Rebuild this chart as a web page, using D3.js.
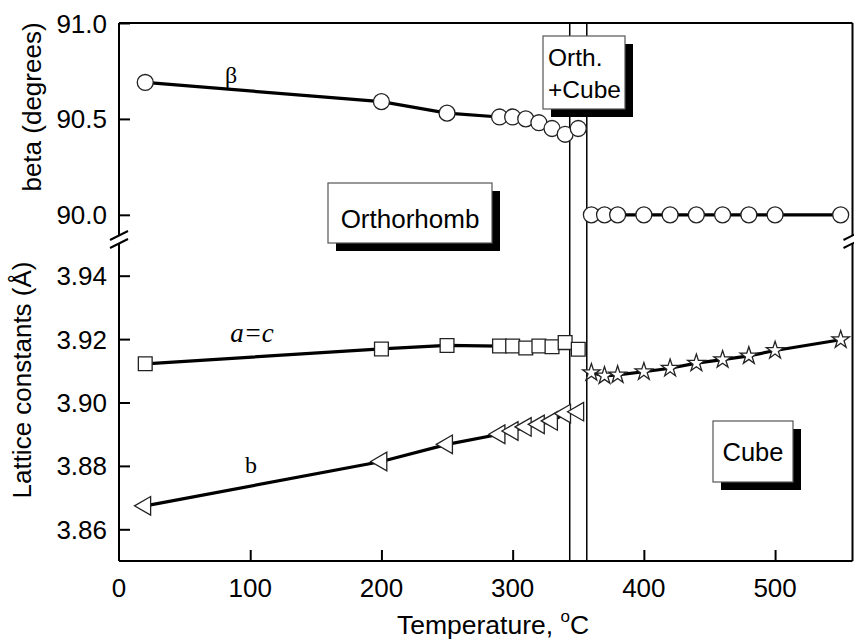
<!DOCTYPE html>
<html>
<head>
<meta charset="utf-8">
<script src="https://cdn.jsdelivr.net/npm/d3@7"></script>
<style>
  body { margin: 0; background: #fff; }
  svg { display: block; }
</style>
</head>
<body>
<svg id="chart" width="854" height="642"></svg>
<script>
// Datos
const tempOrto = [20, 200, 250, 290, 300, 310, 320, 330, 340, 350];
const betaOrto = [90.69, 90.59, 90.53, 90.51, 90.51, 90.50, 90.48, 90.45, 90.42, 90.45];
const acOrto = [3.9122, 3.9169, 3.918, 3.9178, 3.9178, 3.9172, 3.9178, 3.9176, 3.9189, 3.9168];
const bOrto = [3.8674, 3.8814, 3.8868, 3.8900, 3.8910, 3.8923, 3.8931, 3.8942, 3.8965, 3.8971];

const tempCubo = [360, 370, 380, 400, 420, 440, 460, 480, 500, 550];
const betaCubo = [90.0, 90.0, 90.0, 90.0, 90.0, 90.0, 90.0, 90.0, 90.0, 90.0];
const aCubo = [3.9094, 3.9084, 3.9087, 3.9097, 3.9108, 3.9124, 3.9135, 3.9147, 3.9164, 3.9198];

const ticksX = [100, 200, 300, 400, 500];
const labelsX = [0, 100, 200, 300, 400, 500];
const ticksBeta = [90.0, 90.5, 91.0];
const ticksRed = [3.86, 3.88, 3.90, 3.92, 3.94];
const limitesFase = [343.5, 356.5];

const svg = d3.select("#chart");
const sans = "'Liberation Sans', Arial, sans-serif";
const serif = "'Liberation Serif', 'Times New Roman', serif";

const m = {left: 119, right: 852.5, top: 23, bottom: 561};
const x = d3.scaleLinear().domain([0, 559]).range([m.left, m.right]);
const yBeta = d3.scaleLinear().domain([89.9, 91.0]).range([234, m.top]);
const yRed = d3.scaleLinear().domain([3.85, 3.95]).range([m.bottom, 244]);

// Marco
const marco = svg.append("g").attr("stroke", "#000").attr("stroke-width", 2).attr("fill", "none");
marco.append("line").attr("x1", m.left).attr("x2", m.right).attr("y1", m.top).attr("y2", m.top);
marco.append("line").attr("x1", m.left).attr("x2", m.right).attr("y1", m.bottom).attr("y2", m.bottom);
[m.left, m.right].forEach(xx => {
  marco.append("line").attr("x1", xx).attr("x2", xx).attr("y1", m.top).attr("y2", 236);
  marco.append("line").attr("x1", xx).attr("x2", xx).attr("y1", 243).attr("y2", m.bottom);
  // Marcas de corte del eje
  marco.append("line").attr("x1", xx - 9).attr("x2", xx + 9).attr("y1", 240).attr("y2", 231);
  marco.append("line").attr("x1", xx - 9).attr("x2", xx + 9).attr("y1", 248).attr("y2", 239);
});

// Lineas de limite de fase
svg.selectAll(".fase")
  .data(limitesFase)
  .enter()
  .append("line")
  .attr("x1", d => x(d)).attr("x2", d => x(d))
  .attr("y1", m.top).attr("y2", m.bottom)
  .attr("stroke", "#000").attr("stroke-width", 1.5);

// Ejes
svg.append("g")
  .attr("transform", `translate(0,${m.bottom})`)
  .call(d3.axisTop(x).tickValues(ticksX).tickSize(11).tickFormat(""))
  .call(g => g.select(".domain").remove())
  .call(g => g.selectAll("line").attr("stroke-width", 2));

svg.append("g")
  .attr("transform", `translate(${m.left},0)`)
  .call(d3.axisRight(yBeta).tickValues(ticksBeta).tickSize(11).tickFormat(""))
  .call(g => g.select(".domain").remove())
  .call(g => g.selectAll("line").attr("stroke-width", 2));

svg.append("g")
  .attr("transform", `translate(${m.left},0)`)
  .call(d3.axisRight(yRed).tickValues(ticksRed).tickSize(11).tickFormat(""))
  .call(g => g.select(".domain").remove())
  .call(g => g.selectAll("line").attr("stroke-width", 2));

// Etiquetas de los ejes
svg.selectAll(".lx")
  .data(labelsX)
  .enter()
  .append("text")
  .attr("x", d => x(d)).attr("y", 597)
  .attr("text-anchor", "middle")
  .attr("font-family", sans).attr("font-size", 26)
  .text(d => d);

svg.selectAll(".lb")
  .data(ticksBeta)
  .enter()
  .append("text")
  .attr("x", 107).attr("y", d => yBeta(d) + 9.5)
  .attr("text-anchor", "end")
  .attr("font-family", sans).attr("font-size", 26)
  .text(d => d3.format(".1f")(d));

svg.selectAll(".lr")
  .data(ticksRed)
  .enter()
  .append("text")
  .attr("x", 107).attr("y", d => yRed(d) + 9.5)
  .attr("text-anchor", "end")
  .attr("font-family", sans).attr("font-size", 26)
  .text(d => d3.format(".2f")(d));

const tituloX = svg.append("text")
  .attr("x", 493).attr("y", 634)
  .attr("text-anchor", "middle")
  .attr("font-family", sans).attr("font-size", 26.5);
tituloX.append("tspan").text("Temperature, ");
tituloX.append("tspan").attr("font-size", 17).attr("dy", -12).text("o");
tituloX.append("tspan").attr("dy", 12).text("C");

svg.append("text")
  .attr("transform", "translate(41,107) rotate(-90)")
  .attr("text-anchor", "middle")
  .attr("font-family", sans).attr("font-size", 26)
  .text("beta (degrees)");

svg.append("text")
  .attr("transform", "translate(31,380) rotate(-90)")
  .attr("text-anchor", "middle")
  .attr("font-family", sans).attr("font-size", 26)
  .text("Lattice constants (Å)");

// Series
function serie(temps, vals, y, tipo, size, rot) {
  const datos = temps.map((t, i) => ({t: t, v: vals[i]}));
  svg.append("path")
    .datum(datos)
    .attr("fill", "none")
    .attr("stroke", "#000")
    .attr("stroke-width", 3.2)
    .attr("d", d3.line().x(d => x(d.t)).y(d => y(d.v)));
  svg.append("g").selectAll("path")
    .data(datos)
    .enter()
    .append("path")
    .attr("d", d3.symbol().type(tipo).size(size))
    .attr("transform", d => `translate(${x(d.t)},${y(d.v)}) rotate(${rot})`)
    .attr("fill", "#fff")
    .attr("stroke", "#222")
    .attr("stroke-width", 1.3);
}

serie(tempOrto, betaOrto, yBeta, d3.symbolCircle, 200, 0);
serie(tempCubo, betaCubo, yBeta, d3.symbolCircle, 200, 0);
serie(tempOrto, acOrto, yRed, d3.symbolSquare, 190, 0);
serie(tempOrto, bOrto, yRed, d3.symbolTriangle, 150, -90);
serie(tempCubo, aCubo, yRed, d3.symbolStar, 95, 0);

// Nombres de las series
svg.append("text").attr("x", 231).attr("y", 83)
  .attr("text-anchor", "middle").attr("font-family", serif).attr("font-size", 24)
  .text("β");
svg.append("text").attr("x", 252).attr("y", 342)
  .attr("text-anchor", "middle").attr("font-family", serif).attr("font-size", 27)
  .attr("font-style", "italic")
  .text("a=c");
svg.append("text").attr("x", 251).attr("y", 473)
  .attr("text-anchor", "middle").attr("font-family", serif).attr("font-size", 24)
  .text("b");

// Cajas con sombra
function caja(x0, y0, w, h, lineas, anchor, tx, ty, dy, fs) {
  svg.append("rect").attr("x", x0 + 8).attr("y", y0 + 8).attr("width", w).attr("height", h).attr("fill", "#000");
  svg.append("rect").attr("x", x0).attr("y", y0).attr("width", w).attr("height", h)
    .attr("fill", "#fff").attr("stroke", "#555").attr("stroke-width", 1.2);
  lineas.forEach((l, i) => {
    svg.append("text")
      .attr("x", tx).attr("y", ty + i * dy)
      .attr("text-anchor", anchor)
      .attr("font-family", sans).attr("font-size", fs)
      .text(l);
  });
}

caja(328, 183, 164, 60, ["Orthorhomb"], "middle", 410, 228, 0, 26);
caja(543, 36, 82, 73, ["Orth.", "+Cube"], "start", 548, 66, 32, 24.5);
caja(713, 421, 80, 61, ["Cube"], "middle", 753, 461, 0, 25.5);
</script>
</body>
</html>
